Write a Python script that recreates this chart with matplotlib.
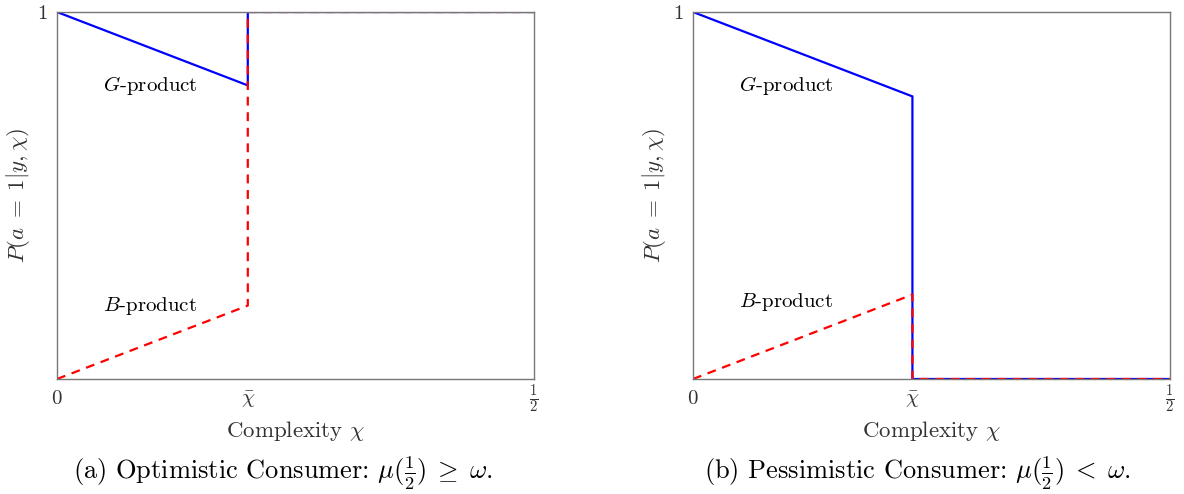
import matplotlib
matplotlib.use('Agg')
import matplotlib.pyplot as plt

plt.rcParams['mathtext.fontset'] = 'cm'
plt.rcParams['font.family'] = 'serif'
plt.rcParams['font.serif'] = ['cmr10']
plt.rcParams['axes.formatter.use_mathtext'] = True

# piecewise adoption probabilities, x = [0, chibar, chibar, 1/2]
chibar_a = 0.2
x_a = [0, chibar_a, chibar_a, 0.5]
g_a = [1, 0.8, 1, 1]
b_a = [0, 0.2, 1, 1]

chibar_b = 0.23
x_b = [0, chibar_b, chibar_b, 0.5]
g_b = [1, 0.77, 0, 0]
b_b = [0, 0.23, 0, 0]

captions = [r'(a) Optimistic Consumer: $\mu(\frac{1}{2})\;\geq\;\omega$.',
            r'(b) Pessimistic Consumer: $\mu(\frac{1}{2})\;<\;\omega$.']

fig = plt.figure(figsize=(11.84, 4.94), dpi=100)
ax1 = fig.add_axes([57/1184, 115/494, 477/1184, 367/494])
ax2 = fig.add_axes([693/1184, 115/494, 477/1184, 367/494])

panels = [(ax1, x_a, g_a, b_a, chibar_a, 0.20),
          (ax2, x_b, g_b, b_b, chibar_b, 0.21)]

for ax, x, g, b, cb, by in panels:
    ax.plot(x, g, color='blue', lw=1.6, solid_joinstyle='miter')
    ax.plot(x, b, color='red', lw=1.6, linestyle=(0, (4, 3)))
    ax.set_xlim(0, 0.5)
    ax.set_ylim(0, 1)
    ax.set_xticks([0, cb, 0.5])
    ax.set_xticklabels(['$0$', r'$\bar{\chi}$', r'$\frac{1}{2}$'])
    ax.set_yticks([1])
    ax.set_yticklabels(['$1$'])
    ax.tick_params(length=0, labelsize=15, colors='#333333')
    ax.tick_params(axis='x', pad=18)
    ax.tick_params(axis='y', pad=7)
    plt.setp(ax.get_xticklabels(), va='baseline')
    for s in ax.spines.values():
        s.set_color('#777777')
        s.set_linewidth(1.0)
    ax.set_xlabel(r'Complexity $\chi$', fontsize=16.5, color='#333333')
    ax.xaxis.set_label_coords(0.5, -0.108)
    ax.set_ylabel(r'$P(a\;=\;1|y,\chi)$', fontsize=16.5, color='#333333')
    ax.yaxis.set_label_coords(-0.053, 0.5)
    ax.text(0.098, 0.80, r'$G$-product', fontsize=15, ha='center', va='center')
    ax.text(0.098, by, r'$B$-product', fontsize=15, ha='center', va='center')

fig.text(283/1184, 1 - 479/494, captions[0], fontsize=19, ha='center', va='baseline')
fig.text(917/1184, 1 - 479/494, captions[1], fontsize=19, ha='center', va='baseline')

plt.savefig('out.png', dpi=100)
